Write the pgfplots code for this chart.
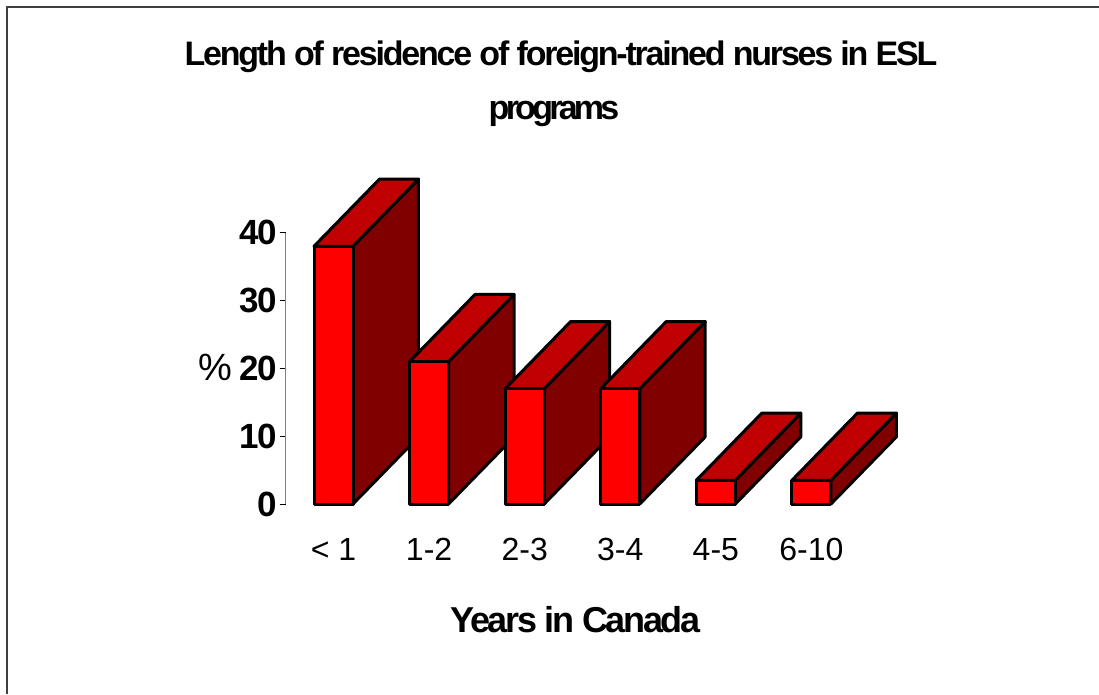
\documentclass[border=0pt]{standalone}
\usepackage{pgfplots}
\pgfplotsset{compat=1.18}
\usepackage{fontspec}
\setmainfont{Liberation Sans}
\newfontfamily\tight[LetterSpace=-6.5]{Liberation Sans}
\newfontfamily\tighter[LetterSpace=-11]{Liberation Sans}
\newfontfamily\ticks[LetterSpace=-5]{Liberation Sans}
\definecolor{frontc}{RGB}{255,0,0}
\definecolor{sidec}{RGB}{128,0,0}
\definecolor{topc}{RGB}{192,0,0}
\definecolor{framec}{RGB}{64,64,64}
\tikzset{barface/.style={draw=black, line width=3pt, line join=round}}
\newcommand\hw{0.204}
\newcommand\ddx{0.685}
\newcommand\ddy{9.9}
\newcommand\threedbar[2]{%
 \pgfmathsetmacro\xl{#1-\hw}%
 \pgfmathsetmacro\xr{#1+\hw}%
 \pgfmathsetmacro\xlb{#1-\hw+\ddx}%
 \pgfmathsetmacro\xrb{#1+\hw+\ddx}%
 \pgfmathsetmacro\vt{#2+\ddy}%
 \edef\temp{%
 \noexpand\addplot[barface,fill=sidec] coordinates {(\xr,0) (\xrb,\ddy) (\xrb,\vt) (\xr,#2)} -- cycle;
 \noexpand\addplot[barface,fill=topc] coordinates {(\xl,#2) (\xlb,\vt) (\xrb,\vt) (\xr,#2)} -- cycle;
 \noexpand\addplot[barface,fill=frontc] coordinates {(\xl,0) (\xl,#2) (\xr,#2) (\xr,0)} -- cycle;
 }\temp}
\begin{document}
\begin{tikzpicture}[x=1pt,y=1pt]
\useasboundingbox (0,0) rectangle (1099,694);
\draw[framec, line width=1.5pt] (7,0) -- (7,687) -- (1099,687);
\node[font=\tight\bfseries\fontsize{34}{40}\selectfont, anchor=base] at (561,628) {Length of residence of foreign-trained nurses in ESL};
\node[font=\tighter\bfseries\fontsize{34}{40}\selectfont, anchor=base] at (554,574.7) {programs};
\begin{axis}[
 at={(333.5pt,190pt)}, anchor=origin, scale only axis,
 width=669.1pt, height=271.3pt,
 xmin=-0.5, xmax=6.5, ymin=0, ymax=40, clip=false,
 axis x line*=bottom, axis y line*=left,
 axis line style={-},
 x axis line style={draw=none},
 y axis line style={gray, line width=1pt},
 /pgf/number format/assume math mode=true,
 xtick={0,1,2,3,4,5},
 xticklabels={{< 1},{1-2},{2-3},{3-4},{4-5},{6-10}},
 xtick style={draw=none},
 xticklabel style={font=\fontsize{32}{36}\selectfont, anchor=base, yshift=-56pt},
 ytick={0,10,20,30,40},
 ytick align=outside,
 major tick length=6pt,
 ytick style={black, line width=1pt},
 yticklabel style={font=\ticks\bfseries\fontsize{35}{40}\selectfont, anchor=east, inner sep=0pt, xshift=-3pt},
 ylabel={\%},
 ylabel style={rotate=-90, font=\fontsize{38}{40}\selectfont, at={(axis description cs:-0.1057,0.505)}, anchor=center},
 xlabel={Years in Canada},
 xlabel style={font=\tight\bfseries\fontsize{36}{40}\selectfont, at={(axis description cs:0.433,-0.4276)}, anchor=center},
]
\threedbar{0}{38}
\threedbar{1}{21}
\threedbar{2}{17}
\threedbar{3}{17}
\threedbar{4}{3.5}
\threedbar{5}{3.5}
\end{axis}
\end{tikzpicture}
\end{document}
